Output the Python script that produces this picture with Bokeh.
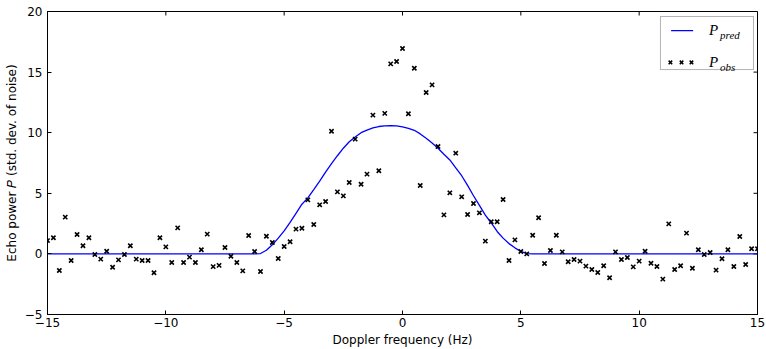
import numpy as np
from bokeh.plotting import figure
from bokeh.models import Range1d, FixedTicker, BoxAnnotation, Label
from bokeh.embed import file_html
from bokeh.resources import INLINE

# ---- data ----
freq = np.linspace(-15, 15, 121)  # Doppler frequency bins (Hz), 0.25 Hz apart
p_obs = [
    1.1, 1.33, -1.37, 3.03, -0.54, 1.6, 0.67, 1.33, -0.05, -0.43,
    0.22, -1.1, -0.49, -0.05, 0.67, -0.43, -0.54, -0.54, -1.56, 1.33,
    0.58, -0.71, 2.15, -0.71, -0.27, -0.71, 0.34, 1.63, -1.05, -0.95,
    0.53, -0.19, -0.71, -1.4, 1.52, 0.2, -1.45, 1.46, 0.94, -0.38,
    0.61, 1.0, 2.04, 2.12, 4.46, 2.43, 4.05, 4.32, 10.12, 5.12,
    4.79, 5.89, 9.47, 5.75, 6.58, 11.45, 6.86,
    11.59, 15.68, 15.87, 16.95, 11.56, 15.32, 5.64, 13.32, 13.95, 8.86,
    3.22, 5.04, 8.31, 4.71, 3.25, 4.16, 3.39, 1.05, 2.65, 2.65,
    4.49, -0.54, 1.16, 0.2, 0.0, 1.54, 2.98,
    -0.79, 0.28, 1.54, 0.17, -0.65, -0.46, -0.6, -1.01, -1.29, -1.53,
    -0.98, -1.97, 0.17, -0.46, -0.3, -1.07, -0.6, 0.22, -0.77, -1.04,
    -2.08, 2.48, -1.29, -0.98, 1.71, -1.18, 0.34, -0.05, 0.12, -1.34,
    -0.4, 0.34, -1.04, 1.44, -0.87, 0.42, 0.42,
]
pred_freq = [
    -15.0, -6.25, -6.0, -5.75, -5.5, -5.25, -5.0, -4.75, -4.5, -4.25,
    -4.0, -3.75, -3.5, -3.25, -3.0, -2.75, -2.5, -2.25, -2.0, -1.75,
    -1.5, -1.25, -1.0, -0.75, -0.5, -0.25, 0.0, 0.25, 0.5, 0.75,
    1.0, 1.25, 1.5, 1.75, 2.0, 2.25, 2.5, 2.75, 3.0, 3.25,
    3.5, 3.75, 4.0, 4.25, 4.5, 4.75, 5.0, 5.25, 5.5, 15.0,
]
p_pred = [
    0.0, 0.0, 0.03, 0.3, 0.75, 1.3, 1.9, 2.6, 3.35, 4.1,
    4.62, 5.3, 6.0, 6.74, 7.45, 8.1, 8.72, 9.25, 9.65, 10.0,
    10.22, 10.4, 10.51, 10.57, 10.59, 10.56, 10.48, 10.36, 10.2, 9.9,
    9.55, 9.15, 8.72, 8.22, 7.75, 7.1, 6.45, 5.65, 4.8, 4.0,
    3.2, 2.55, 1.85, 1.3, 0.85, 0.5, 0.2, 0.03, 0.0, 0.0,
]
x_ticks = [-15, -10, -5, 0, 5, 10, 15]
x_tick_labels = ["\u221215", "\u221210", "\u22125", "0", "5", "10", "15"]
y_ticks = [-5, 0, 5, 10, 15, 20]
y_tick_labels = ["\u22125", "0", "5", "10", "15", "20"]
x_lo, x_hi = -15, 15
y_lo, y_hi = -5, 20

FONT = "DejaVu Sans"

p = figure(width=766, height=349, output_backend="svg", toolbar_location=None,
           x_range=Range1d(x_lo, x_hi), y_range=Range1d(y_lo, y_hi),
           min_border_left=47, min_border_right=9, min_border_top=11, min_border_bottom=35)
p.background_fill_color = "white"
p.border_fill_color = "white"
p.xgrid.visible = False
p.ygrid.visible = False
p.outline_line_color = "black"
p.outline_line_width = 1

def style_axis(ax, ticks, labels):
    ax.ticker = FixedTicker(ticks=ticks)
    ax.major_tick_in = 4
    ax.major_tick_out = 0
    ax.minor_tick_line_color = None
    ax.axis_line_color = "black"
    ax.major_tick_line_color = "black"
    ax.major_label_overrides = {t: l for t, l in zip(ticks, labels)}
    ax.major_label_text_font = FONT
    ax.major_label_text_font_size = "12px"
    ax.major_label_text_color = "black"
    ax.major_label_standoff = 3
    ax.axis_label_text_font = FONT
    ax.axis_label_text_font_size = "12px"
    ax.axis_label_text_font_style = "normal"
    ax.axis_label_text_color = "black"
    ax.axis_label_standoff = 3

style_axis(p.xaxis[0], x_ticks, x_tick_labels)
style_axis(p.yaxis[0], y_ticks, y_tick_labels)
p.yaxis[0].major_label_standoff = 5
p.xaxis[0].axis_label = "Doppler frequency (Hz)"
p.yaxis[0].axis_label = "Echo power \U0001D443 (std. dev. of noise)"

# inward ticks on the top and right spines (matplotlib classic style)
tx = 4 * (x_hi - x_lo) / 710.0
ty = 4 * (y_hi - y_lo) / 303.0
p.segment(x0=x_ticks, y0=[y_hi] * len(x_ticks), x1=x_ticks, y1=[y_hi - ty] * len(x_ticks),
          line_color="black", line_width=1)
p.segment(x0=[x_hi] * len(y_ticks), y0=y_ticks, x1=[x_hi - tx] * len(y_ticks), y1=y_ticks,
          line_color="black", line_width=1)

# predicted spectrum and observations
p.line(pred_freq, p_pred, line_color="#0000ff", line_width=1.3)
p.scatter(freq, p_obs, marker="x", size=6, line_color="black", line_width=1.6)

# legend (matplotlib-style, built by hand for the math-style labels)
p.add_layout(BoxAnnotation(left=10.9, right=14.83, top=19.59, bottom=15.21,
                           fill_color="white", fill_alpha=1, level="underlay",
                           line_color="black", line_width=1))
p.line([11.35, 12.28], [18.43, 18.43], line_color="#0000ff", line_width=1.3)
p.scatter([11.32, 11.79, 12.21], [15.8, 15.8, 15.8], marker="x", size=5,
          line_color="black", line_width=1.5)
for y_p, sub in [(18.5, "pred"), (15.83, "obs")]:
    p.add_layout(Label(x=12.95, y=y_p, text="P", text_font="Liberation Serif",
                       text_font_style="italic", text_font_size="15px",
                       text_baseline="middle", text_align="left", text_color="black"))
    p.add_layout(Label(x=13.42, y=y_p - 0.4, text=sub, text_font="Liberation Serif",
                       text_font_style="italic", text_font_size="11px",
                       text_baseline="middle", text_align="left", text_color="black"))

open("out.html", "w").write(file_html(p, INLINE))
